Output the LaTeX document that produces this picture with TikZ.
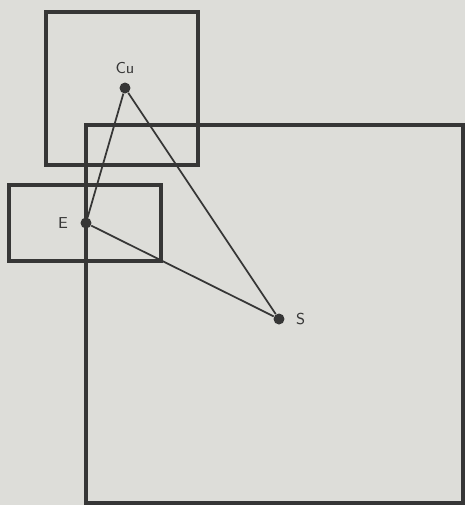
\documentclass[tikz,border=0pt]{standalone}
\usepackage{tikz}
\usetikzlibrary{positioning}
\definecolor{paper}{HTML}{DDDDD9}
\definecolor{ink}{HTML}{363636}
\tikzset{
  frame/.style={draw=ink,line width=2pt},
  tie/.style={draw=ink,line width=1pt},
  pin/.style={circle,fill=ink,inner sep=0pt,minimum size=0.22cm},
  tag/.style={font=\sffamily\small,text=ink}
}
\begin{document}
\begin{tikzpicture}[x=0.02cm,y=-0.02cm]
    \fill[paper] (0,0) rectangle (465,505);
    \useasboundingbox (0,0) rectangle (465,505);
    % boxes
    \draw[frame] (46,12) rectangle (198,165);
    \draw[frame] (86,125) rectangle (463,503);
    \draw[frame] (9,185) rectangle (161,261);
    % points
    \node[pin] (cu) at (125,88) {};
    \node[pin] (e) at (86,223) {};
    \node[pin] (s) at (279,319) {};
    \node[tag,above=0.05cm of cu] {Cu};
    \node[tag,left=0.12cm of e] {E};
    \node[tag,right=0.1cm of s] {S};
    % triangle
    \draw[tie] (cu) -- (e) -- (s) -- (cu);
  \end{tikzpicture}
\end{document}
